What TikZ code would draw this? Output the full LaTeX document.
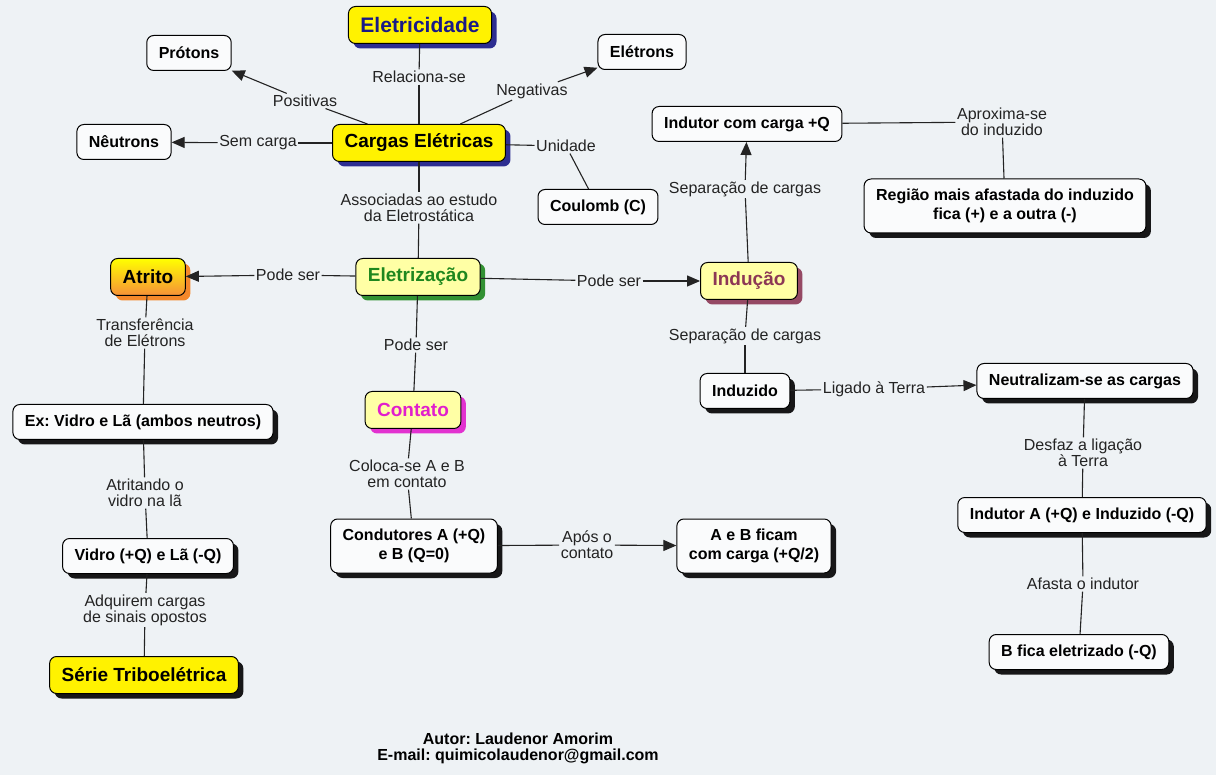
\documentclass[tikz,border=0pt]{standalone}
\usepackage{fontspec}
\setmainfont{Liberation Sans}
\frenchspacing
\usetikzlibrary{arrows.meta}
\usetikzlibrary{shadows}
\definecolor{bg}{RGB}{238,242,245}
\definecolor{navyblue}{RGB}{25,25,135}
\definecolor{lightyel}{RGB}{255,255,165}
\definecolor{elgreen}{RGB}{30,135,30}
\definecolor{indmaroon}{RGB}{140,55,85}
\definecolor{conmag}{RGB}{225,30,205}
\definecolor{atrorange}{RGB}{245,125,20}
\definecolor{linegray}{RGB}{35,35,35}
\definecolor{boxwhite}{RGB}{250,251,252}
\tikzset{
	plainbox/.style={draw=black, line width=1pt, rounded corners=7pt,
		fill=boxwhite, inner xsep=12pt,
		minimum height=35pt, align=center,
		font=\fontsize{16}{19}\selectfont\bfseries},
	box/.style={plainbox,
		drop shadow={shadow xshift=5pt, shadow yshift=-5pt, fill=#1, opacity=.9}},
	box/.default=black,
	bigbox/.style={box=#1, minimum height=37pt,
		font=\fontsize{19}{21}\selectfont\bfseries},
	twoline/.style={minimum height=54pt},
	lbl/.style={font=\fontsize{16}{16}\selectfont, text=linegray,
		align=center, inner sep=1.5pt},
	link/.style={draw=linegray, line width=1.1pt},
	arr/.style={link, -{Triangle[length=13pt,width=11pt]}}
}

\begin{document}
\begin{tikzpicture}[x=1pt, y=-1pt]
	% background, 1216 x 775 px
	\fill[bg] (0,0) rectangle (1216,775);
	\useasboundingbox (0,0) rectangle (1216,775);
	
	% top: cargas eletricas
	\node[bigbox=navyblue, fill=yellow, text=navyblue,
		font=\fontsize{21}{23}\selectfont\bfseries] (eletricidade) at (420,25) {Eletricidade};
	\node[bigbox=navyblue, fill=yellow] (cargas) at (419,143) {Cargas Elétricas};
	\node[plainbox] (protons) at (189,53) {Prótons};
	\node[plainbox] (eletrons) at (642,52) {Elétrons};
	\node[plainbox] (neutrons) at (124,142) {Nêutrons};
	\node[plainbox] (coulomb) at (598,207) {Coulomb (C)};
	
	\node[lbl] (lrel) at (419,77) {Relaciona-se};
	\node[lbl] (lpos) at (305,101) {Positivas};
	\node[lbl] (lneg) at (532,91) {Negativas};
	\node[lbl] (lsem) at (258,143) {Sem carga};
	\node[lbl] (lunid) at (566,146) {Unidade};
	\node[lbl] (lassoc) at (419,208) {Associadas ao estudo\\da Eletrostática};
	
	\draw[link] (eletricidade) -- (lrel);
	\draw[link] (lrel) -- (cargas);
	\draw[link] (cargas) -- (lpos);
	\draw[arr] (lpos) -- (protons);
	\draw[link] (cargas) -- (lneg);
	\draw[arr] (lneg) -- (eletrons);
	\draw[link] (cargas) -- (lsem);
	\draw[arr] (lsem) -- (neutrons);
	\draw[link] (cargas) -- (lunid);
	\draw[link] (lunid) -- (coulomb);
	\draw[link] (cargas) -- (lassoc);
	
	% eletrizacao and its three kinds
	\node[bigbox=elgreen, fill=lightyel, text=elgreen] (eletrizacao) at (418,277) {Eletrização};
	\node[bigbox=atrorange, top color=yellow, bottom color=atrorange!85] (atrito) at (148,277) {Atrito};
	\node[bigbox=indmaroon, fill=lightyel, text=indmaroon] (inducao) at (749,281) {Indução};
	\node[bigbox=conmag, fill=lightyel, text=conmag] (contato) at (413,410) {Contato};
	
	\node[lbl] (lpode1) at (288,275) {Pode ser};
	\node[lbl] (lpode2) at (609,281) {Pode ser};
	\node[lbl] (lpode3) at (416,345) {Pode ser};
	
	\draw[link] (lassoc) -- (eletrizacao);
	\draw[link] (eletrizacao) -- (lpode1);
	\draw[arr] (lpode1) -- (atrito);
	\draw[link] (eletrizacao) -- (lpode2);
	\draw[arr] (lpode2) -- (inducao);
	\draw[link] (eletrizacao) -- (lpode3);
	\draw[link] (lpode3) -- (contato);
	
	% atrito branch
	\node[box] (ex) at (143,422) {Ex: Vidro e Lã (ambos neutros)};
	\node[box] (vidro) at (148,556) {Vidro (+Q) e Lã (-Q)};
	\node[bigbox, fill=yellow] (serie) at (144,675) {Série Triboelétrica};
	
	\node[lbl] (ltransf) at (145,333) {Transferência\\de Elétrons};
	\node[lbl] (latrit) at (145,493) {Atritando o\\vidro na lã};
	\node[lbl] (ladq) at (145,610) {Adquirem cargas\\de sinais opostos};
	
	\draw[link] (atrito) -- (ltransf);
	\draw[link] (ltransf) -- (ex);
	\draw[link] (ex) -- (latrit);
	\draw[link] (latrit) -- (vidro);
	\draw[link] (vidro) -- (ladq);
	\draw[link] (ladq) -- (serie);
	
	% contato branch
	\node[box, twoline] (condutores) at (414,546) {Condutores A (+Q)\\e B (Q=0)};
	\node[box, twoline] (aeb) at (754,546) {A e B ficam\\com carga (+Q/2)};
	
	\node[lbl] (lcoloca) at (407,474) {Coloca-se A e B\\em contato};
	\node[lbl] (lapos) at (587,545) {Após o\\contato};
	
	\draw[link] (contato) -- (lcoloca);
	\draw[link] (lcoloca) -- (condutores);
	\draw[link] (condutores) -- (lapos);
	\draw[arr] (lapos) -- (aeb);
	
	% inducao branch
	\node[plainbox] (indutor) at (747,124) {Indutor com carga +Q};
	\node[box, twoline] (regiao) at (1005,206) {Região mais afastada do induzido\\fica (+) e a outra (-)};
	\node[box] (induzido) at (745,391) {Induzido};
	\node[box] (neutral) at (1085,381) {Neutralizam-se as cargas};
	\node[box] (indA) at (1082,515) {Indutor A (+Q) e Induzido (-Q)};
	\node[box] (bfica) at (1079,652) {B fica eletrizado (-Q)};
	
	\node[lbl] (lsep1) at (745,189) {Separação de cargas};
	\node[lbl] (lsep2) at (745,336) {Separação de cargas};
	\node[lbl] (lapr) at (1002,122) {Aproxima-se\\do induzido};
	\node[lbl] (lterra) at (874,389) {Ligado à Terra};
	\node[lbl] (ldesf) at (1083,453) {Desfaz a ligação\\à Terra};
	\node[lbl] (lafasta) at (1083,584) {Afasta o indutor};
	
	\draw[link] (inducao) -- (lsep1);
	\draw[arr] (lsep1) -- (indutor);
	\draw[link] (indutor) -- (lapr);
	\draw[link] (lapr) -- (regiao);
	\draw[link] (inducao) -- (lsep2);
	\draw[link] (lsep2) -- (induzido);
	\draw[link] (induzido) -- (lterra);
	\draw[arr] (lterra) -- (neutral);
	\draw[link] (neutral) -- (ldesf);
	\draw[link] (ldesf) -- (indA);
	\draw[link] (indA) -- (lafasta);
	\draw[link] (lafasta) -- (bfica);
	
	% author
	\node[align=center, font=\fontsize{16}{16}\selectfont\bfseries] (autor) at (518,748)
		{Autor: Laudenor Amorim\\E-mail: quimicolaudenor@gmail.com};
\end{tikzpicture}
\end{document}
